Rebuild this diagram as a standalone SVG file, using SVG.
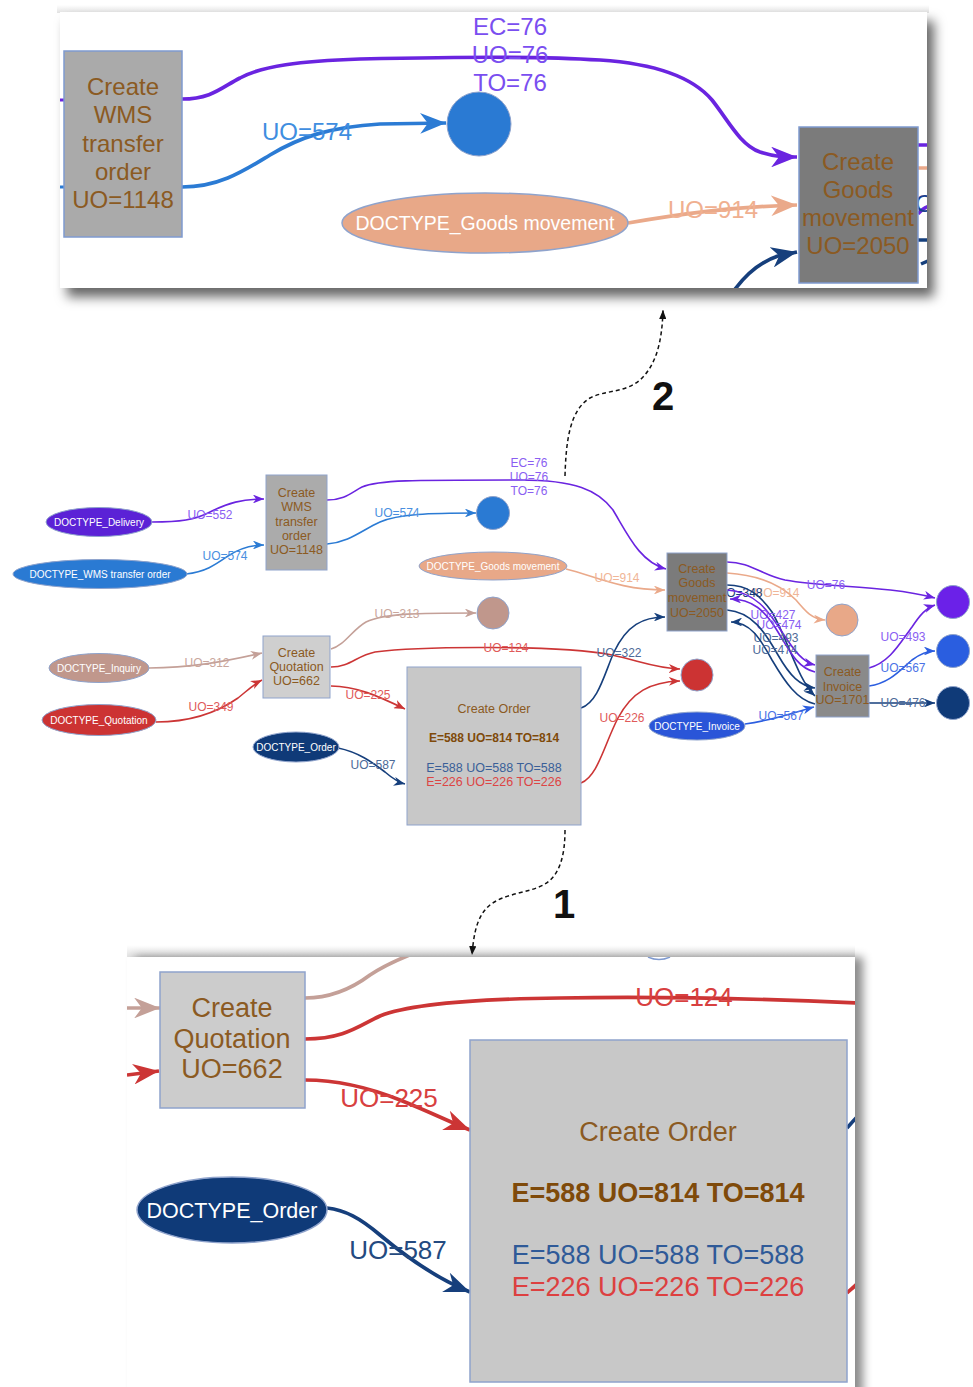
<svg xmlns="http://www.w3.org/2000/svg" width="973" height="1387" viewBox="0 0 973 1387">
<defs>
<style>
text{font-family:"Liberation Sans",Arial,sans-serif}
.e{fill:none;stroke-linecap:butt}
.m{stroke-width:1.6}
.b{stroke-width:3.7}
.lb{font-size:12px;text-anchor:middle}
.lt{font-size:24px;text-anchor:middle}
.lq{font-size:26px;text-anchor:middle}
.nt{fill:#8b5a22;text-anchor:middle}
.dt{fill:#ffffff;text-anchor:middle;font-size:10px}
.nb{stroke:#8fa3cc;stroke-width:1}
.sP{stroke:#6a24e0}.sB{stroke:#2b7bd4}.sPe{stroke:#eaa98a}.sBr{stroke:#c4a098}.sR{stroke:#cc3535}.sN{stroke:#163f7c}.sRB{stroke:#2c5ee0}
.tP{fill:#8a5ef2}.tB{fill:#4a8fe0}.tPe{fill:#f0b596}.tBr{fill:#c9a69c}.tR{fill:#e05a5a}.tN{fill:#4d6a98}.tRB{fill:#4a72e6}
</style>
<marker id="aP" viewBox="0 0 10 8" refX="10" refY="4" markerWidth="7" markerHeight="5.6" orient="auto"><path d="M0,0 L10,4 L0,8 L3,4 z" fill="#6a24e0"/></marker>
<marker id="aB" viewBox="0 0 10 8" refX="10" refY="4" markerWidth="7" markerHeight="5.6" orient="auto"><path d="M0,0 L10,4 L0,8 L3,4 z" fill="#2b7bd4"/></marker>
<marker id="aPe" viewBox="0 0 10 8" refX="10" refY="4" markerWidth="7" markerHeight="5.6" orient="auto"><path d="M0,0 L10,4 L0,8 L3,4 z" fill="#eaa98a"/></marker>
<marker id="aBr" viewBox="0 0 10 8" refX="10" refY="4" markerWidth="7" markerHeight="5.6" orient="auto"><path d="M0,0 L10,4 L0,8 L3,4 z" fill="#c4a098"/></marker>
<marker id="aR" viewBox="0 0 10 8" refX="10" refY="4" markerWidth="7" markerHeight="5.6" orient="auto"><path d="M0,0 L10,4 L0,8 L3,4 z" fill="#cc3535"/></marker>
<marker id="aN" viewBox="0 0 10 8" refX="10" refY="4" markerWidth="7" markerHeight="5.6" orient="auto"><path d="M0,0 L10,4 L0,8 L3,4 z" fill="#163f7c"/></marker>
<marker id="aRB" viewBox="0 0 10 8" refX="10" refY="4" markerWidth="7" markerHeight="5.6" orient="auto"><path d="M0,0 L10,4 L0,8 L3,4 z" fill="#2c5ee0"/></marker>
<marker id="aK" viewBox="0 0 10 8" refX="10" refY="4" markerWidth="6" markerHeight="4.8" orient="auto"><path d="M0,0 L10,4 L0,8 z" fill="#111"/></marker>
<filter id="shT" x="-3%" y="-5%" width="108%" height="120%"><feDropShadow dx="7" dy="9" stdDeviation="6" flood-color="#000" flood-opacity="0.6"/></filter>
<filter id="shB" x="-3%" y="-5%" width="108%" height="110%"><feDropShadow dx="8" dy="0" stdDeviation="5" flood-color="#000" flood-opacity="0.45"/></filter>
<clipPath id="cTop"><rect x="60" y="12" width="867" height="276"/></clipPath>
<clipPath id="cBot"><rect x="127" y="957" width="728" height="430"/></clipPath>
<linearGradient id="gTopBand" x1="0" y1="0" x2="0" y2="1"><stop offset="0" stop-color="#ffffff"/><stop offset="1" stop-color="#e2e2e2"/></linearGradient>
</defs>
<rect width="973" height="1387" fill="#ffffff"/>

<!-- ============ TOP ZOOM PANEL ============ -->
<g id="panel-top">
<rect x="57" y="5" width="872" height="8" fill="url(#gTopBand)"/>
<rect x="60" y="12" width="867" height="276" fill="#ffffff" filter="url(#shT)"/>
<g clip-path="url(#cTop)">
<g id="top-connectors">
<path class="e sP" stroke-width="3" d="M60,100 L65,100"/>
<path class="e sB" stroke-width="3" d="M60,187 L65,187"/>
<path class="e b sP" marker-end="url(#aP)" d="M182,99 C212,99 222,87 240,78 C262,66 300,61 360,59 C460,57 540,56 600,60 C660,64 695,80 712,100 C728,120 740,145 760,152 C773,156 780,157 797,157"/>
<text class="lt" fill="#7a4ef0" x="510" y="35">EC=76</text>
<text class="lt" fill="#7a4ef0" x="510" y="63">UO=76</text>
<text class="lt" fill="#7a4ef0" x="510" y="91">TO=76</text>
<path class="e b sB" stroke-width="4.2" marker-end="url(#aB)" d="M182,187 C220,187 245,170 270,155 C300,137 330,127 380,124 L446,123"/>
<text class="lt" fill="#3f8ee0" x="307" y="140">UO=574</text>
<path class="e b sPe" stroke-width="4.2" marker-end="url(#aPe)" d="M628,223 C680,214 730,207 797,205"/>
<text class="lt" fill="#f0b090" x="713" y="218">UO=914</text>
<path class="e b sN" marker-end="url(#aN)" d="M733,292 C745,275 760,262 778,256 L797,252"/>
<path class="e sP" stroke-width="3.5" d="M918,145 L930,145"/>
<path class="e sPe" stroke-width="3.5" d="M918,168 L930,168"/>
<path class="e sP" stroke-width="3.5" d="M918,214 C922,209 925,207 930,206"/>
<path class="e sN" stroke-width="3.5" d="M918,240 L930,240"/>
<path class="e sN" stroke-width="3.5" d="M921,264 L930,260"/>
<text font-size="24" fill="#1a3f90" x="898" y="212">UO=348</text>
</g>
<g id="top-wms-box">
<rect x="64" y="51" width="118" height="186" fill="#aaaaaa" stroke="#7f9ad0" stroke-width="1.5"/>
<text class="nt" font-size="24" x="123" y="95">Create</text>
<text class="nt" font-size="24" x="123" y="123">WMS</text>
<text class="nt" font-size="24" x="123" y="152">transfer</text>
<text class="nt" font-size="24" x="123" y="180">order</text>
<text class="nt" font-size="24" x="123" y="208">UO=1148</text>
</g>
<g id="top-blue-circle"><circle cx="479" cy="124" r="32" fill="#2a7ad3" stroke="#8fa3cc" stroke-width="1"/></g>
<g id="top-gm-doc">
<ellipse cx="485" cy="223" rx="143" ry="30" fill="#e8a888" stroke="#8fa3cc" stroke-width="1.5"/>
<text fill="#ffffff" text-anchor="middle" font-size="19.5" x="485" y="230">DOCTYPE_Goods movement</text>
</g>
<g id="top-gm-box">
<rect x="799" y="127" width="119" height="156" fill="#7b7b7b" stroke="#7f9ad0" stroke-width="1.5"/>
<text class="nt" font-size="24" x="858" y="170">Create</text>
<text class="nt" font-size="24" x="858" y="198">Goods</text>
<text class="nt" font-size="24" x="858" y="226">movement</text>
<text class="nt" font-size="24" x="858" y="254">UO=2050</text>
</g>
</g>
</g>

<!-- ============ MAIN GRAPH ============ -->
<g id="connectors">
<path class="e m sP" marker-end="url(#aP)" d="M152,522 C180,522 195,520 210,512 C228,503 242,499 264,499"/>
<text class="lb tP" x="210" y="519">UO=552</text>
<path class="e m sB" marker-end="url(#aB)" d="M186,574 C205,572 215,565 228,556 C240,548 250,545 264,545"/>
<text class="lb tB" x="225" y="560">UO=574</text>
<path class="e m sP" marker-end="url(#aP)" d="M327,500 C345,500 352,492 362,487 C378,480 410,480 520,480 C575,480 598,490 613,510 C628,535 640,562 666,569"/>
<text class="lb tP" x="529" y="467">EC=76</text>
<text class="lb tP" x="529" y="481">UO=76</text>
<text class="lb tP" x="529" y="495">TO=76</text>
<path class="e m sB" marker-end="url(#aB)" d="M327,544 C350,542 362,530 380,522 C398,514 430,513 476,513"/>
<text class="lb tB" x="397" y="517">UO=574</text>
<path class="e m sPe" marker-end="url(#aPe)" d="M566,569 C595,576 620,590 665,590"/>
<text class="lb tPe" x="617" y="582">UO=914</text>
<path class="e m sBr" marker-end="url(#aBr)" d="M331,649 C345,645 352,630 366,622 C385,613 420,613 476,613"/>
<text class="lb tBr" x="397" y="618">UO=313</text>
<path class="e m sR" marker-end="url(#aR)" d="M331,667 C350,667 356,656 375,652 C420,646 560,645 612,655 C640,661 655,668 680,669"/>
<text class="lb tR" x="506" y="652">UO=124</text>
<path class="e m sR" marker-end="url(#aR)" d="M331,686 C356,686 378,696 405,709"/>
<text class="lb tR" x="368" y="699">UO=225</text>
<path class="e m sBr" marker-end="url(#aBr)" d="M149,668 C190,668 222,662 262,653"/>
<text class="lb tBr" x="207" y="667">UO=312</text>
<path class="e m sR" marker-end="url(#aR)" d="M156,722 C190,722 218,712 238,698 C248,690 254,684 262,680"/>
<text class="lb tR" x="211" y="711">UO=349</text>
<path class="e m sN" marker-end="url(#aN)" d="M338,748 C358,752 372,762 385,772 C392,778 397,782 405,784"/>
<text class="lb tN" x="373" y="769">UO=587</text>
<path class="e m sN" marker-end="url(#aN)" d="M581,708 C598,702 604,675 614,652 C627,625 643,617 665,617"/>
<text class="lb tN" x="619" y="657">UO=322</text>
<path class="e m sR" marker-end="url(#aR)" d="M581,783 C598,776 604,745 618,718 C632,692 650,682 680,681"/>
<text class="lb tR" x="622" y="722">UO=226</text>
<path class="e m sP" marker-end="url(#aP)" d="M727,562 C750,562 762,575 785,580 C830,588 885,585 935,598"/>
<text class="lb tP" x="826" y="589">UO=76</text>
<path class="e m sPe" marker-end="url(#aPe)" d="M727,573 C760,575 782,586 796,600 C806,612 812,619 825,620"/>
<text class="lb tPe" x="777" y="597">UO=914</text>
<path class="e m sN" marker-end="url(#aN)" d="M727,585 C748,585 760,595 772,612 C788,640 798,680 815,696"/>
<text class="lb" fill="#1c3d7a" x="740" y="597">UO=348</text>
<path class="e m sP" marker-end="url(#aP)" d="M727,590 C755,592 768,610 782,632 C795,652 803,662 815,665"/>
<text class="lb tP" x="773" y="619">UO=427</text>
<path class="e m sP" marker-end="url(#aP)" d="M815,672 C798,668 790,652 778,632 C765,610 752,599 730,599"/>
<text class="lb tP" x="779" y="629">UO=474</text>
<path class="e m sN" marker-end="url(#aN)" d="M727,610 C752,612 765,632 778,655 C790,676 800,686 815,688"/>
<text class="lb tN" x="776" y="642">UO=493</text>
<path class="e m sN" marker-end="url(#aN)" d="M815,704 C797,700 785,682 772,660 C760,638 750,622 731,622"/>
<text class="lb tN" x="775" y="654">UO=474</text>
<path class="e m sP" marker-end="url(#aP)" d="M869,668 C890,662 900,643 912,627 C920,615 926,608 935,605"/>
<text class="lb tP" x="903" y="641">UO=493</text>
<path class="e m sRB" marker-end="url(#aRB)" d="M869,686 C890,683 900,670 912,660 C920,654 926,651 935,651"/>
<text class="lb tRB" x="903" y="672">UO=567</text>
<path class="e m sN" marker-end="url(#aN)" d="M869,703 L935,703"/>
<text class="lb tN" x="903" y="707">UO=476</text>
<path class="e m sRB" marker-end="url(#aRB)" d="M745,724 C775,720 795,712 814,707"/>
<text class="lb tRB" x="781" y="720">UO=567</text>
</g>

<g id="n-delivery"><ellipse cx="99" cy="522" rx="53" ry="14.5" fill="#5b22d6" stroke="#8fa3cc"/><text class="dt" x="99" y="525.5">DOCTYPE_Delivery</text></g>
<g id="n-wms-doc"><ellipse cx="100" cy="574" rx="87" ry="14.5" fill="#2a7ad3" stroke="#8fa3cc"/><text class="dt" x="100" y="577.5">DOCTYPE_WMS transfer order</text></g>
<g id="n-wms-box"><rect x="266" y="475" width="61" height="95" fill="#ababab" class="nb"/>
<text class="nt" font-size="12.5" x="296.5" y="497">Create</text>
<text class="nt" font-size="12.5" x="296.5" y="511">WMS</text>
<text class="nt" font-size="12.5" x="296.5" y="526">transfer</text>
<text class="nt" font-size="12.5" x="296.5" y="540">order</text>
<text class="nt" font-size="12.5" x="296.5" y="554">UO=1148</text></g>
<g id="n-blue-sink"><circle cx="493" cy="513" r="16.5" fill="#2a7ad3" stroke="#8fa3cc"/></g>
<g id="n-gm-doc"><ellipse cx="493" cy="566" rx="74" ry="14" fill="#e8a888" stroke="#8fa3cc"/><text class="dt" x="493" y="569.5">DOCTYPE_Goods movement</text></g>
<g id="n-gm-box"><rect x="667" y="553" width="60" height="78" fill="#7b7b7b" class="nb"/>
<text class="nt" font-size="12.5" x="697" y="573">Create</text>
<text class="nt" font-size="12.5" x="697" y="587">Goods</text>
<text class="nt" font-size="12.5" x="697" y="602">movement</text>
<text class="nt" font-size="12.5" x="697" y="617">UO=2050</text></g>
<g id="n-brown-sink"><circle cx="493" cy="613" r="16" fill="#c0978c" stroke="#8fa3cc"/></g>
<g id="n-inquiry"><ellipse cx="99" cy="668" rx="50" ry="14.5" fill="#c0978c" stroke="#8fa3cc"/><text class="dt" x="99" y="671.5">DOCTYPE_Inquiry</text></g>
<g id="n-quotation-doc"><ellipse cx="99" cy="720" rx="57" ry="15.5" fill="#cc3333" stroke="#8fa3cc"/><text class="dt" x="99" y="723.5">DOCTYPE_Quotation</text></g>
<g id="n-quotation-box"><rect x="263" y="636" width="67" height="62" fill="#cfcfcf" class="nb"/>
<text class="nt" font-size="12.5" x="296.5" y="657">Create</text>
<text class="nt" font-size="12.5" x="296.5" y="671">Quotation</text>
<text class="nt" font-size="12.5" x="296.5" y="685">UO=662</text></g>
<g id="n-red-sink"><circle cx="697" cy="675" r="16" fill="#cc3333" stroke="#8fa3cc"/></g>
<g id="n-order-doc"><ellipse cx="296" cy="747" rx="43" ry="15" fill="#0f3a78" stroke="#8fa3cc"/><text class="dt" x="296" y="750.5">DOCTYPE_Order</text></g>
<g id="n-order-box"><rect x="407" y="667" width="174" height="158" fill="#c8c8c8" class="nb"/>
<text class="nt" font-size="12.5" x="494" y="713">Create Order</text>
<text text-anchor="middle" font-size="12" font-weight="bold" fill="#7f4a0a" x="494" y="742">E=588 UO=814 TO=814</text>
<text text-anchor="middle" font-size="12.5" fill="#3a5f98" x="494" y="772">E=588 UO=588 TO=588</text>
<text text-anchor="middle" font-size="12.5" fill="#dd4444" x="494" y="786">E=226 UO=226 TO=226</text></g>
<g id="n-invoice-doc"><ellipse cx="697" cy="726" rx="48" ry="14" fill="#2a55d8" stroke="#8fa3cc"/><text class="dt" x="697" y="729.5">DOCTYPE_Invoice</text></g>
<g id="n-invoice-box"><rect x="816" y="655" width="53" height="62" fill="#8a8a8a" class="nb"/>
<text class="nt" font-size="12.5" x="842.5" y="676">Create</text>
<text class="nt" font-size="12.5" x="842.5" y="691">Invoice</text>
<text class="nt" font-size="12.5" x="842.5" y="704">UO=1701</text></g>
<g id="n-peach-sink"><circle cx="842" cy="620" r="16" fill="#e8a888" stroke="#8fa3cc"/></g>
<g id="n-purple-sink"><circle cx="953" cy="602" r="16.5" fill="#6b21e8" stroke="#8fa3cc"/></g>
<g id="n-rblue-sink"><circle cx="953" cy="651" r="16.5" fill="#2a5ee0" stroke="#8fa3cc"/></g>
<g id="n-navy-sink"><circle cx="953" cy="703" r="16.5" fill="#0f3a78" stroke="#8fa3cc"/></g>

<!-- ============ BOTTOM ZOOM PANEL ============ -->
<g id="panel-bottom">
<rect x="127" y="945" width="728" height="12" fill="url(#gTopBand)"/>
<rect x="127" y="957" width="728" height="440" fill="#ffffff" filter="url(#shB)"/>
<g clip-path="url(#cBot)">
<g id="bottom-connectors">
<path class="e b sBr" marker-end="url(#aBr)" d="M127,1008 L160,1008"/>
<path class="e b sR" marker-end="url(#aR)" d="M127,1075 L159,1071"/>
<path class="e b sBr" d="M305,998 C330,998 350,990 370,975 C385,965 397,960 412,954"/>
<path class="e b sR" d="M305,1039 C345,1039 360,1025 380,1016 C410,1004 470,999 560,998 C680,996 770,999 856,1003"/>
<text class="lq" fill="#d84040" x="684" y="1006">UO=124</text>
<path class="e b sR" marker-end="url(#aR)" d="M305,1080 C340,1080 370,1088 400,1100 C430,1112 450,1122 470,1130"/>
<text class="lq" fill="#d84040" x="389" y="1107">UO=225</text>
<path class="e b sN" marker-end="url(#aN)" d="M327,1208 C345,1210 360,1218 380,1235 C410,1260 440,1280 470,1292"/>
<text class="lq" fill="#244a80" x="398" y="1259">UO=587</text>
<path class="e b sN" d="M847,1128 C850,1125 852,1122 857,1117"/>
<path class="e b sR" d="M847,1293 C850,1290 853,1288 857,1284"/>
<path fill="none" stroke="#7f9ad0" stroke-width="1.5" d="M648,957 Q659,962 670,957"/>
</g>
<g id="bottom-quotation-box"><rect x="160" y="972" width="145" height="136" fill="#cccccc" stroke="#8fa3cc" stroke-width="1.5"/>
<text class="nt" font-size="27" x="232" y="1017">Create</text>
<text class="nt" font-size="27" x="232" y="1048">Quotation</text>
<text class="nt" font-size="27" x="232" y="1078">UO=662</text></g>
<g id="bottom-order-doc"><ellipse cx="232" cy="1210" rx="95" ry="33" fill="#0f3a78" stroke="#8fa3cc" stroke-width="1.5"/>
<text fill="#ffffff" text-anchor="middle" font-size="21.5" x="232" y="1218">DOCTYPE_Order</text></g>
<g id="bottom-order-box"><rect x="470" y="1040" width="377" height="342" fill="#c8c8c8" stroke="#8fa3cc" stroke-width="1.5"/>
<text class="nt" font-size="27" x="658" y="1141">Create Order</text>
<text text-anchor="middle" font-size="27" font-weight="bold" fill="#7f4a0a" x="658" y="1202">E=588 UO=814 TO=814</text>
<text text-anchor="middle" font-size="27" fill="#2f5a98" x="658" y="1264">E=588 UO=588 TO=588</text>
<text text-anchor="middle" font-size="27" fill="#dd4040" x="658" y="1296">E=226 UO=226 TO=226</text></g>
</g>
</g>

<!-- ============ CALLOUT ARROWS ============ -->
<g id="callouts">
<path fill="none" stroke="#111" stroke-width="1.5" stroke-dasharray="4,3" marker-end="url(#aK)" d="M565,476 C566,440 570,410 590,398 C605,390 625,393 640,380 C655,366 662,345 663,310"/>
<text x="663" y="410" font-size="40" font-weight="bold" text-anchor="middle" fill="#111">2</text>
<path fill="none" stroke="#111" stroke-width="1.5" stroke-dasharray="4,3" marker-end="url(#aK)" d="M565,830 C565,855 560,875 545,884 C530,893 505,893 490,905 C478,915 474,930 472,955"/>
<text x="564" y="918" font-size="40" font-weight="bold" text-anchor="middle" fill="#111">1</text>
</g>
</svg>
